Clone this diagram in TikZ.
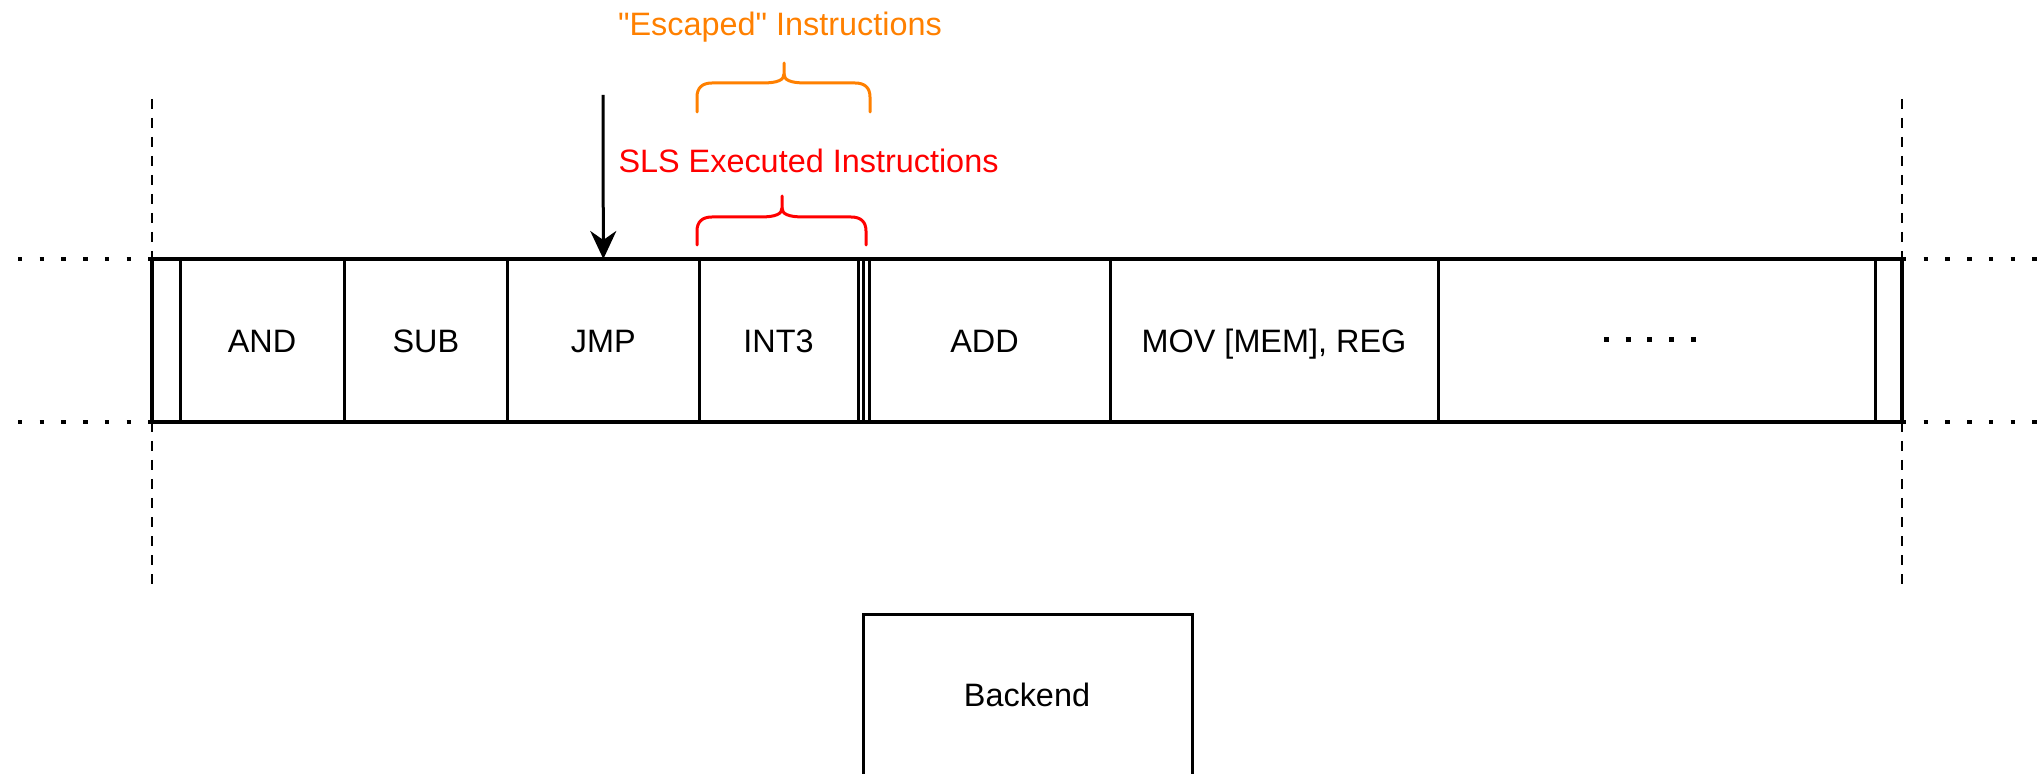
\documentclass[tikz,border=0pt]{standalone}
\usepackage{fontspec}
\newfontfamily\drawfont{Liberation Sans}
\usetikzlibrary{arrows.meta,fit}
\definecolor{escorange}{HTML}{FF8000}
\definecolor{slsred}{HTML}{FF0000}
\begin{document}
\begin{tikzpicture}[x=0.5pt,y=-0.5pt,
  txt/.style={font=\drawfont\fontsize{16.2}{19.4}\selectfont,inner sep=0pt,anchor=center,
    text height=11.6pt,text depth=0pt},
  cell/.style={draw,line width=1.5pt,inner sep=0pt,outer sep=0pt},
  thincell/.style={draw,line width=1.1pt,inner sep=0pt,outer sep=0pt},
  guide/.style={line width=1.2pt,dash pattern=on 5pt off 4.5pt},
  dotrow/.style={line width=2.2pt,dash pattern=on 2.2pt off 8.65pt},
  bracestyle/.style={line width=1.5pt,line cap=round,line join=round},
  pointer/.style={line width=1.5pt,-{Stealth[length=14pt,width=13pt,inset=4.5pt]}}
]
\useasboundingbox (0,0) rectangle (2038,774);
\clip (0,0) rectangle (2038,774);

% guide lines
\coordinate (gl1) at (152,99);
\coordinate (gl2) at (152,585);
\coordinate (gr1) at (1902,99);
\coordinate (gr2) at (1902,585);
\draw[guide] (gl1) -- (gl2);
\draw[guide] (gr1) -- (gr2);

% dotted continuation lines
\coordinate (dl1) at (18,259);
\coordinate (dl2) at (18,422);
\coordinate (dr1) at (1902,259);
\coordinate (dr2) at (1902,422);
\coordinate (el1) at (152,259);
\coordinate (el2) at (152,422);
\coordinate (er1) at (2038,259);
\coordinate (er2) at (2038,422);
\draw[dotrow] (dl1) -- (el1);
\draw[dotrow] (dl2) -- (el2);
\draw[dotrow] (dr1) -- (er1);
\draw[dotrow] (dr2) -- (er2);

% band
\node[cell,line width=1.7pt,fit={(152,259) (1902,422)}] (band) {};
\node[cell,fit={(152,259) (180,422)}] (c0) {};
\node[cell,fit={(180,259) (344,422)}] (and) {};
\node[cell,fit={(344,259) (507.7,422)}] (sub) {};
\node[cell,fit={(507.7,259) (699,422)}] (jmp) {};
\node[cell,fit={(699,259) (858,422)}] (int) {};
\node[thincell,fit={(858,259) (863.5,422)}] (t1) {};
\node[thincell,fit={(863.5,259) (869,422)}] (t2) {};
\node[cell,fit={(869,259) (1110,422)}] (add) {};
\node[cell,fit={(1110,259) (1438,422)}] (mov) {};
\node[cell,fit={(1438,259) (1875,422)}] (more) {};
\node[cell,fit={(1875,259) (1902,422)}] (c9) {};
\node[txt] (andl) at (and.center) {AND};
\node[txt] (subl) at (sub.center) {SUB};
\node[txt] (jmpl) at (jmp.center) {JMP};
\node[txt] (intl) at (int.center) {INT3};
\node[txt] (addl) at ([xshift=-2.5pt]add.center) {ADD};
\node[txt] (movl) at (mov.center) {MOV [MEM], REG};
\coordinate (ell1) at (1604,340);
\coordinate (ell2) at (1696,340);
\draw[line width=2.5pt,dash pattern=on 2.5pt off 8.35pt] (ell1) -- (ell2);

% pointer arrow
\coordinate (ptop) at (603,95);
\draw[pointer] (ptop) -- (jmp.north);

% orange brace
\draw[bracestyle,escorange] (697,112) -- (697,97) .. controls (697,88) and (702,83) .. (712,83) -- (762,83) .. controls (778,83) and (784,80) .. (784,74) -- (784,63);
\draw[bracestyle,escorange] (870,112) -- (870,97) .. controls (870,88) and (865,83) .. (855,83) -- (806,83) .. controls (790,83) and (784,80) .. (784,74);
\node[txt,text=escorange] (esc) at (780,24) {"Escaped" Instructions};

% red brace
\draw[bracestyle,slsred] (697,245) -- (697,231) .. controls (697,222) and (702,217) .. (712,217) -- (760,217) .. controls (776,217) and (782,214) .. (782,208) -- (782,196);
\draw[bracestyle,slsred] (866,245) -- (866,231) .. controls (866,222) and (861,217) .. (851,217) -- (804,217) .. controls (788,217) and (782,214) .. (782,208);
\node[txt,text=slsred] (sls) at (808.5,160.5) {SLS Executed Instructions};

% backend
\node[cell,fit={(863,614) (1192,780)}] (backend) {};
\node[txt] (backendl) at (1027,695) {Backend};
\end{tikzpicture}
\end{document}
